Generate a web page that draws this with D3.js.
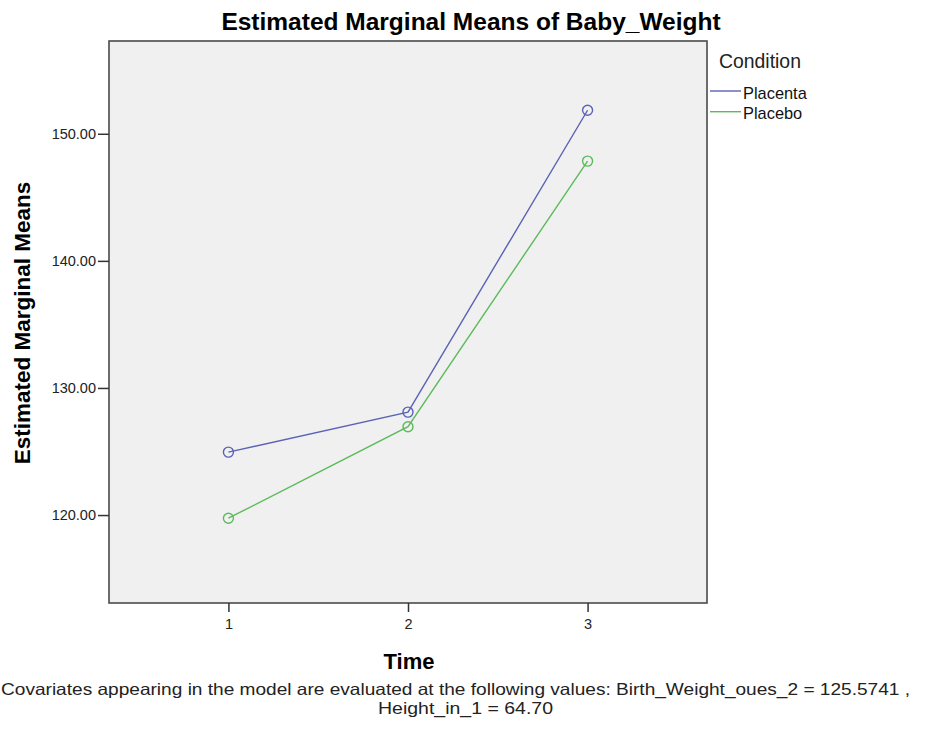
<!DOCTYPE html>
<html><head><meta charset="utf-8">
<script src="https://cdn.jsdelivr.net/npm/d3@7"></script>
<style>body{margin:0;background:#fff}svg{display:block}</style>
</head><body>
<script>
const times = [1, 2, 3];
const seriesNames = ["Placenta", "Placebo"];
const placenta = [124.95, 128.1, 151.85];
const placebo = [119.75, 126.95, 147.85];
const yTicks = [120, 130, 140, 150];
const colors = ["#5b62b5", "#5cba5c"];
const titleText = "Estimated Marginal Means of Baby_Weight";
const footLine1 = "Covariates appearing in the model are evaluated at the following values: Birth_Weight_oues_2 = 125.5741 ,";
const footLine2 = "Height_in_1 = 64.70";

const W = 941, H = 741;
const L = 109, R = 707, T = 41, B = 603;
const svg = d3.select("body").append("svg").attr("width", W).attr("height", H);
const font = "'Liberation Sans', Arial, sans-serif";

const x = d3.scaleLinear().domain([0.335, 3.665]).range([L, R]);
const y = d3.scaleLinear().domain([113.08, 157.3]).range([B, T]);

svg.append("rect").attr("x", L).attr("y", T).attr("width", R - L).attr("height", B - T)
  .attr("fill", "#f0f0f0").attr("stroke", "#4a4a4a").attr("stroke-width", 1.6);

const yAxis = svg.append("g").attr("transform", `translate(${L},0)`)
  .call(d3.axisLeft(y).tickValues(yTicks).tickFormat(d3.format(".2f")).tickSize(11).tickPadding(2));
const xAxis = svg.append("g").attr("transform", `translate(0,${B})`)
  .call(d3.axisBottom(x).tickValues(times).tickFormat(d3.format("d")).tickSize(9).tickPadding(7));
[yAxis, xAxis].forEach(g => {
  g.attr("font-size", null).attr("font-family", null);
  g.select(".domain").remove();
  g.selectAll("line").attr("stroke", "#333").attr("stroke-width", 1.5);
  g.selectAll("text").style("font-family", font).style("font-size", "14.5px").attr("fill", "#222");
});

const data = [placenta, placebo];
const line = d3.line().x((d, i) => x(times[i])).y(d => y(d));
data.forEach((vals, k) => {
  svg.append("path").attr("d", line(vals)).attr("fill", "none")
    .attr("stroke", colors[k]).attr("stroke-width", 1.4);
  svg.selectAll(null).data(vals).enter().append("circle")
    .attr("cx", (d, i) => x(times[i])).attr("cy", d => y(d)).attr("r", 5)
    .attr("fill", "none").attr("stroke", colors[k]).attr("stroke-width", 1.4);
});

svg.append("text").attr("x", 471).attr("y", 30).attr("text-anchor", "middle")
  .style("font-family", font).style("font-weight", "bold").style("font-size", "24.5px").text(titleText);
svg.append("text").attr("transform", "translate(30,323) rotate(-90)").attr("text-anchor", "middle")
  .style("font-family", font).style("font-weight", "bold").style("font-size", "22.5px").text("Estimated Marginal Means");
svg.append("text").attr("x", 409).attr("y", 669).attr("text-anchor", "middle")
  .style("font-family", font).style("font-weight", "bold").style("font-size", "22px").text("Time");

svg.append("text").attr("x", 719).attr("y", 68).style("font-family", font)
  .style("font-size", "19.4px").attr("fill", "#222").text("Condition");
seriesNames.forEach((n, k) => {
  const yy = 91 + k * 20.7;
  svg.append("line").attr("x1", 710).attr("x2", 741).attr("y1", yy).attr("y2", yy)
    .attr("stroke", colors[k]).attr("stroke-width", 1.4);
  svg.append("text").attr("x", 743).attr("y", yy + 7.5).style("font-family", font)
    .style("font-size", "16.4px").attr("fill", "#111").text(n);
});

const foot = svg.append("g").style("font-family", font).style("font-size", "16.5px").attr("fill", "#222");
foot.append("text").attr("x", 1).attr("y", 695).attr("textLength", 909)
  .attr("lengthAdjust", "spacingAndGlyphs").text(footLine1);
foot.append("text").attr("x", 378).attr("y", 714).attr("textLength", 175)
  .attr("lengthAdjust", "spacingAndGlyphs").text(footLine2);
</script>
</body></html>
